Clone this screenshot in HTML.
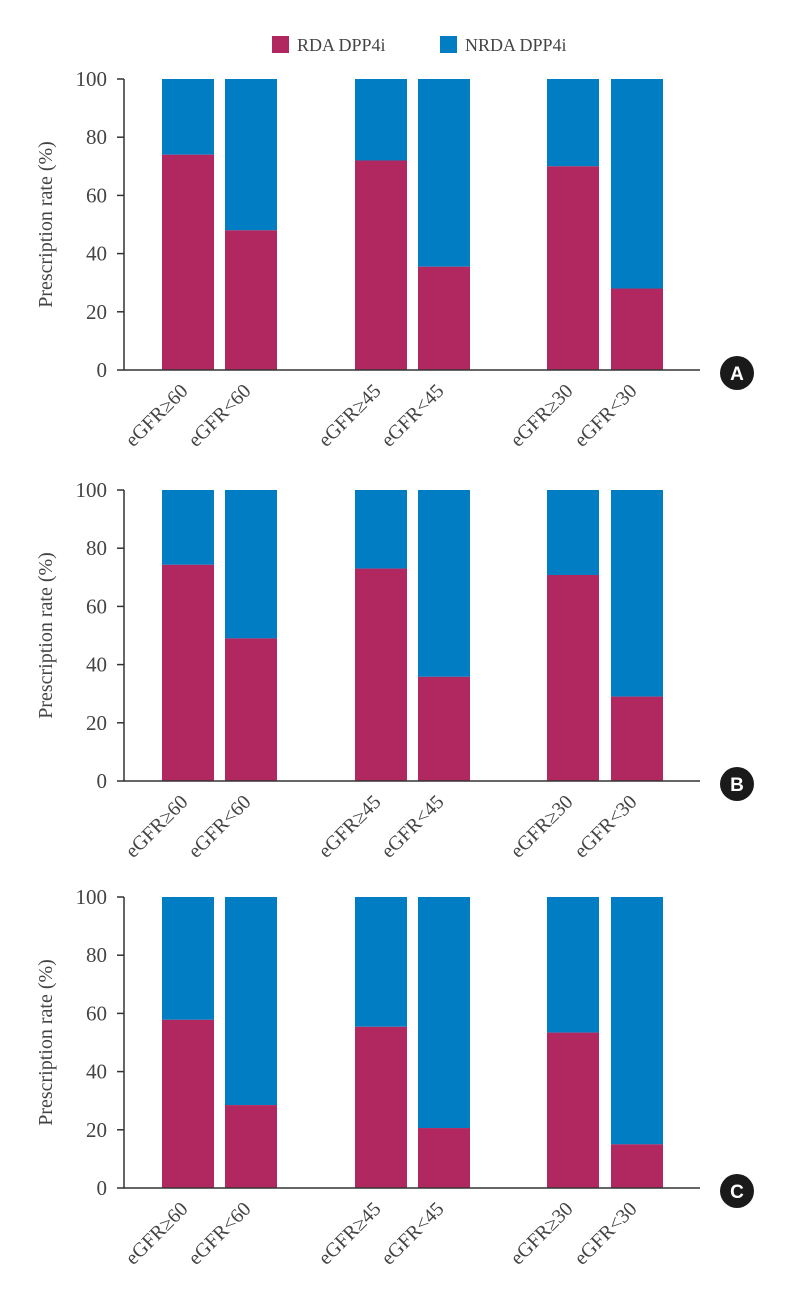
<!DOCTYPE html>
<html><head><meta charset="utf-8"><style>
html,body{margin:0;padding:0;background:#fff;}
svg{display:block;font-family:"Liberation Serif",serif;}
</style></head><body>
<svg id="chart" width="792" height="1301" viewBox="0 0 792 1301">
<g>
<rect x="272" y="36" width="17" height="17" fill="#b0285f"/>
<text x="297" y="51" font-size="18" fill="#444">RDA DPP4i</text>
<rect x="440" y="36" width="17" height="17" fill="#007dc3"/>
<text x="465" y="51" font-size="18" fill="#444">NRDA DPP4i</text>
</g>
</svg>
<script>
const categories = ["eGFR≥60","eGFR<60","eGFR≥45","eGFR<45","eGFR≥30","eGFR<30"];
const rdaA = [74, 48, 72, 35.5, 70, 28];
const rdaB = [74.3, 49, 73, 35.8, 70.8, 29];
const rdaC = [57.8, 28.5, 55.4, 20.6, 53.4, 15];
const panelLabels = ["A","B","C"];
const yTicks = [0,20,40,60,80,100];

const NS = "http://www.w3.org/2000/svg";
const svg = document.getElementById("chart");
function mk(tag, attrs, parent){const e=document.createElementNS(NS,tag);for(const k in attrs)e.setAttribute(k,attrs[k]);(parent||svg).appendChild(e);return e;}
const barLeft = [162,225,355,418,547,611];
const barW = 52;
const panels = [{top:79,base:370,data:rdaA},{top:490,base:781,data:rdaB},{top:897,base:1188,data:rdaC}];
panels.forEach((p,pi)=>{
  const g = mk("g",{});
  
  
  const y = v => p.base - (p.base-p.top)*v/100;
  categories.forEach((c,i)=>{
    const x = barLeft[i];
    const v = p.data[i];
    const nr = mk("rect",{x:x,y:y(100),width:barW,height:y(v)-y(100),fill:"#007dc3"},g);
    
    
    const r = mk("rect",{x:x,y:y(v),width:barW,height:p.base-y(v),fill:"#b0285f"},g);
    
    
    const ax0 = x+barW/2+1, ay0 = p.base+22;
    const t = mk("text",{x:ax0,y:ay0,"font-size":20,fill:"#444","text-anchor":"end",transform:`rotate(-45 ${ax0} ${ay0})`},g);
    t.textContent = c;
    
    
  });
  const ax = mk("path",{d:`M124 ${p.top} V${p.base} H700`,stroke:"#333","stroke-width":1.5,fill:"none"},g);
  
  
  yTicks.forEach(t=>{
    const ty=y(t);
    const tk = mk("line",{x1:117,x2:124,y1:ty,y2:ty,stroke:"#333","stroke-width":1.5},g);
    
    
    const tl = mk("text",{x:107,y:ty+7,"font-size":21,fill:"#444","text-anchor":"end"},g);
    tl.textContent = t;
    
    
  });
  const my = (p.top+p.base)/2;
  const yt = mk("text",{x:52,y:my,"font-size":20,fill:"#444","text-anchor":"middle",transform:`rotate(-90 52 ${my})`},g);
  yt.textContent = "Prescription rate (%)";
  
  
  const c = mk("circle",{cx:737,cy:p.base+3,r:17,fill:"#1a1a1a"},g);
  
  
  const ct = mk("text",{x:737,y:p.base+10,"font-size":19,"font-weight":"bold",fill:"#fff","text-anchor":"middle","font-family":"Liberation Sans, sans-serif"},g);
  ct.textContent = panelLabels[pi];
  
  
});
</script>
</body></html>
